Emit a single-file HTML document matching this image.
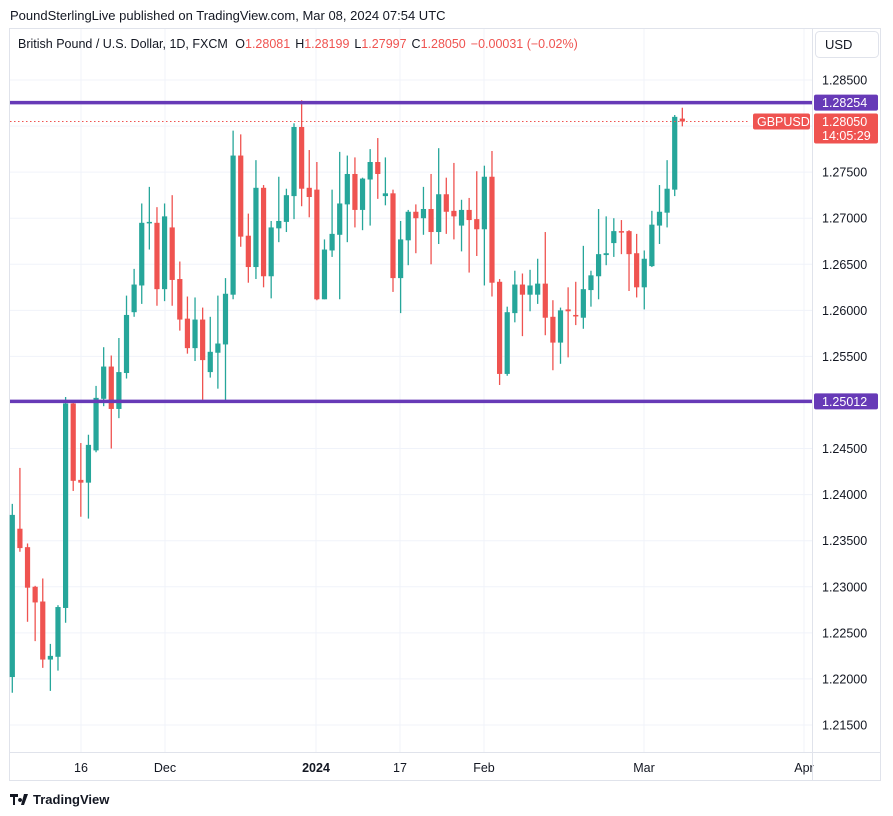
<!DOCTYPE html>
<html><head><meta charset="utf-8"><style>
body{margin:0;background:#fff;font-family:"Liberation Sans",sans-serif;}
svg{display:block}
</style></head><body>
<svg id="c" width="893" height="816" xmlns="http://www.w3.org/2000/svg">
<rect x="0" y="0" width="893" height="816" fill="#fff"/>
<text x="10" y="20" font-size="13" fill="#131722">PoundSterlingLive published on TradingView.com, Mar 08, 2024 07:54 UTC</text>
<rect x="9.5" y="28.5" width="871" height="752" fill="none" stroke="#e0e3eb"/>
<g id="grid"></g>
<g id="marks"></g>
<g id="overlay"></g>
<text x="18" y="48" font-size="12.5" fill="#131722">British Pound / U.S. Dollar, 1D, FXCM <tspan dx="4">O</tspan><tspan fill="#ef5350">1.28081</tspan><tspan dx="5">H</tspan><tspan fill="#ef5350">1.28199</tspan><tspan dx="5">L</tspan><tspan fill="#ef5350">1.27997</tspan><tspan dx="5">C</tspan><tspan fill="#ef5350">1.28050</tspan><tspan dx="5" fill="#ef5350">−0.00031 (−0.02%)</tspan></text>
<rect x="815.5" y="31.5" width="63" height="26" rx="4" fill="#fff" stroke="#e0e3eb"/>
<text x="825" y="49" font-size="13" fill="#131722">USD</text>
<g>
<path d="M10 794h8v3h-3v8h-2v-8h-3z M20 798a2 2 0 1 0 0.1 0z M24 794h4l-4 11h-3z" fill="#131722"/>
<text x="33" y="804" font-size="13" font-weight="bold" fill="#131722">TradingView</text>
</g>
</svg>
<script>
const categories=["16","Dec","2024","17","Feb","Mar","Apr"];
const tickPrices=[1.285,1.28,1.275,1.27,1.265,1.26,1.255,1.25,1.245,1.24,1.235,1.23,1.225,1.22,1.215];
const openV=[1.2202,1.2363,1.2343,1.2300,1.2284,1.2221,1.2224,1.2277,1.2499,1.2416,1.2413,1.2448,1.2504,1.2539,1.2493,1.2532,1.2598,1.2627,1.2695,1.2695,1.2623,1.2690,1.2634,1.2591,1.2559,1.2590,1.2533,1.2554,1.2563,1.2617,1.2768,1.2681,1.2647,1.2733,1.2637,1.2689,1.2696,1.2724,1.2799,1.2733,1.2731,1.2612,1.2665,1.2682,1.2715,1.2748,1.2709,1.2742,1.2761,1.2724,1.2727,1.2635,1.2676,1.2707,1.2700,1.2710,1.2685,1.2726,1.2708,1.2692,1.2709,1.2699,1.2688,1.2745,1.2631,1.2531,1.2597,1.2628,1.2617,1.2617,1.2629,1.2593,1.2565,1.2601,1.2595,1.2592,1.2622,1.2637,1.2660,1.2673,1.2686,1.2686,1.2662,1.2625,1.2648,1.2692,1.2706,1.2731,1.28081];
const highV=[1.2390,1.2429,1.2347,1.2301,1.2309,1.2238,1.2280,1.2506,1.2501,1.2456,1.2465,1.2518,1.2560,1.2551,1.2570,1.2616,1.2645,1.2716,1.2734,1.2712,1.2716,1.2725,1.2653,1.2615,1.2614,1.2603,1.2593,1.2616,1.2635,1.2795,1.2791,1.2705,1.2763,1.2736,1.2697,1.2745,1.2732,1.2803,1.2828,1.2774,1.2761,1.2677,1.2731,1.2772,1.2768,1.2766,1.2744,1.2775,1.2787,1.2766,1.2731,1.2697,1.2709,1.2715,1.2734,1.2748,1.2776,1.2744,1.2760,1.2720,1.2722,1.2751,1.2757,1.2773,1.2634,1.2604,1.2643,1.2640,1.2644,1.2656,1.2685,1.2611,1.2603,1.2625,1.2631,1.2670,1.2643,1.2710,1.2702,1.2700,1.2698,1.2687,1.2683,1.2665,1.2708,1.2736,1.2763,1.2812,1.28199];
const lowV=[1.2185,1.2338,1.2262,1.2241,1.2212,1.2187,1.2209,1.2261,1.2404,1.2376,1.2374,1.2446,1.2496,1.2450,1.2483,1.2526,1.2593,1.2607,1.2666,1.2605,1.2610,1.2605,1.2578,1.2553,1.2545,1.2503,1.2527,1.2515,1.2501,1.2612,1.2669,1.2630,1.2634,1.2625,1.2613,1.2674,1.2685,1.2699,1.2713,1.2701,1.2611,1.2612,1.2658,1.2612,1.2674,1.2690,1.2687,1.2692,1.2721,1.2714,1.2620,1.2597,1.2649,1.2662,1.2682,1.2650,1.2672,1.2683,1.2677,1.2664,1.2641,1.2659,1.2627,1.2615,1.2519,1.2529,1.2587,1.2572,1.2599,1.2607,1.2573,1.2535,1.2542,1.2549,1.2584,1.2580,1.2604,1.2612,1.2649,1.2658,1.2661,1.2621,1.2614,1.2601,1.2647,1.2672,1.2690,1.2724,1.27997];
const closeV=[1.2378,1.2342,1.2299,1.2283,1.2221,1.2225,1.2278,1.2499,1.2415,1.2413,1.2454,1.2505,1.2539,1.2493,1.2533,1.2595,1.2628,1.2695,1.2696,1.2623,1.2702,1.2633,1.2590,1.2559,1.2590,1.2546,1.2555,1.2564,1.2618,1.2768,1.2680,1.2647,1.2733,1.2637,1.2690,1.2697,1.2725,1.2799,1.2732,1.2723,1.2612,1.2666,1.2683,1.2716,1.2748,1.2709,1.2743,1.2761,1.2748,1.2727,1.2635,1.2677,1.2707,1.2700,1.2710,1.2685,1.2726,1.2707,1.2702,1.2709,1.2698,1.2688,1.2745,1.2630,1.2531,1.2598,1.2628,1.2617,1.2627,1.2629,1.2592,1.2565,1.2600,1.2599,1.2594,1.2623,1.2638,1.2661,1.2662,1.2686,1.2685,1.2661,1.2625,1.2656,1.2693,1.2707,1.2732,1.2810,1.28050];
const levels=[1.28254,1.25012];
const lastPrice=1.28050;
const catX=[81,165,316,400,484,644,804];

const NS="http://www.w3.org/2000/svg";
const X0=12.3,DX=7.614,PX=9214;
function y(p){return 80+(1.285-p)*PX;}
function x(i){return X0+i*DX;}
function mk(tag,attrs,parent){const e=document.createElementNS(NS,tag);for(const k in attrs)e.setAttribute(k,attrs[k]);parent.appendChild(e);return e;}
const grid=document.getElementById('grid'),marks=document.getElementById('marks'),ov=document.getElementById('overlay');
const svg=document.getElementById('c');
tickPrices.forEach(p=>{
  const l=mk('line',{x1:10,x2:812,y1:y(p),y2:y(p),stroke:'#f0f3fa'},grid);
  
  
  const t=mk('text',{x:822,y:y(p)+4.5,'font-size':12.5,fill:'#131722'},grid);
  
  
  t.textContent=p.toFixed(5);
});
categories.forEach((c,i)=>{
  const l=mk('line',{x1:catX[i],x2:catX[i],y1:29,y2:752,stroke:'#f0f3fa'},grid);
  
  
  const t=mk('text',{x:catX[i],y:772,'font-size':12.5,'text-anchor':'middle',fill:'#131722','font-weight':c==='2024'?'bold':'normal'},grid);
  
  
  t.textContent=c;
});
mk('line',{x1:10,x2:880,y1:752.5,y2:752.5,stroke:'#e0e3eb'},grid);
mk('line',{x1:812.5,x2:812.5,y1:29,y2:780,stroke:'#e0e3eb'},grid);
openV.forEach((o,i)=>{
  const c=closeV[i],up=c>=o,col=up?'#26a69a':'#ef5350';
  const g=mk('g',{},marks);
  
  
  const cx=x(i);
  mk('line',{x1:cx,x2:cx,y1:y(highV[i]),y2:y(lowV[i]),stroke:col,'stroke-width':1.3},g);
  const top=y(Math.max(o,c)),h=Math.max(1.5,Math.abs(y(o)-y(c)));
  mk('rect',{x:cx-2.6,y:top,width:5.2,height:h,fill:col},g);
});
const ll=mk('line',{x1:10,x2:750,y1:y(lastPrice),y2:y(lastPrice),stroke:'#ef5350','stroke-dasharray':'1.5 2.5'},ov);


levels.forEach(p=>{
  const l=mk('line',{x1:10,x2:812,y1:y(p),y2:y(p),stroke:'#673ab7','stroke-width':3.5},ov);
  
  
  const r=mk('rect',{x:814,y:y(p)-8,width:64,height:16,rx:2,fill:'#673ab7'},ov);
  
  
  const t=mk('text',{x:822,y:y(p)+4.5,'font-size':12.5,fill:'#fff'},ov);
  t.textContent=p.toFixed(5);
});
const yl=y(lastPrice);
const sb=mk('rect',{x:753,y:yl-8,width:57,height:16,rx:2,fill:'#ef5350'},ov);


const st=mk('text',{x:757,y:yl+4.5,'font-size':12.5,fill:'#fff'},ov);st.textContent='GBPUSD';
const pb=mk('rect',{x:814,y:yl-8,width:64,height:30,rx:2,fill:'#ef5350'},ov);


const pt=mk('text',{x:822,y:yl+4.5,'font-size':12.5,fill:'#fff'},ov);pt.textContent=lastPrice.toFixed(5);
const ct=mk('text',{x:822,y:yl+18.5,'font-size':12.5,fill:'#fff'},ov);ct.textContent='14:05:29';
</script>
</body></html>
